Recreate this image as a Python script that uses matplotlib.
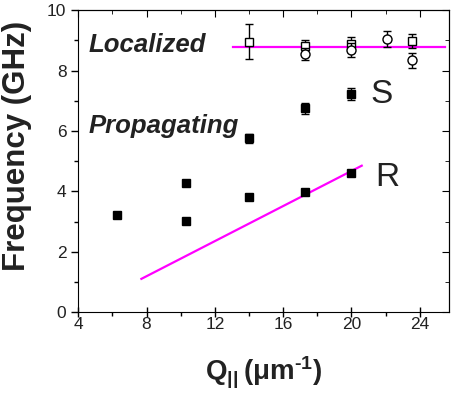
import matplotlib
matplotlib.use("Agg")
import matplotlib.pyplot as plt
from matplotlib.ticker import MultipleLocator

plt.rcParams['font.family'] = ['Liberation Sans', 'DejaVu Sans']
plt.rcParams['mathtext.fontset'] = 'custom'
plt.rcParams['mathtext.rm'] = 'Liberation Sans'
plt.rcParams['mathtext.bf'] = 'Liberation Sans:bold'

# Propagating (filled squares)
prop_q = [6.3, 10.3, 10.3, 14.0, 14.0, 17.25, 20.0, 17.25, 20.0]
prop_f = [3.22, 4.28, 3.02, 3.82, 5.76, 6.75, 7.22, 3.98, 4.62]
prop_err = [0, 0, 0, 0, 0.15, 0.18, 0.2, 0, 0]

# Localized squares (open)
loc_sq_q = [14.0, 17.25, 20.0, 23.55]
loc_sq_f = [8.95, 8.82, 8.88, 8.98]
loc_sq_err = [0.58, 0.2, 0.25, 0.22]

# Localized circles (open)
loc_ci_q = [17.25, 20.0, 22.1, 23.55]
loc_ci_f = [8.55, 8.68, 9.05, 8.35]
loc_ci_err = [0.2, 0.22, 0.25, 0.25]

# Magenta lines
line_loc_q = [13.05, 25.5]
line_loc_f = [8.78, 8.78]
line_r_q = [7.7, 20.6]
line_r_f = [1.1, 4.85]

fig = plt.figure(figsize=(4.52, 3.96), dpi=100)
ax = fig.add_axes([0.173, 0.212, 0.82, 0.762])

ax.plot(line_loc_q, line_loc_f, color='#ff00ff', lw=1.6, zorder=1)
ax.plot(line_r_q, line_r_f, color='#ff00ff', lw=1.6, zorder=1)

ax.errorbar(prop_q, prop_f, yerr=prop_err, fmt='s', color='black', ms=6,
            mfc='black', mec='black', elinewidth=1, capsize=3, capthick=1, zorder=3)
ax.errorbar(loc_sq_q, loc_sq_f, yerr=loc_sq_err, fmt='s', color='black', ms=6,
            mfc='white', mec='black', mew=1, elinewidth=1, capsize=3, capthick=1, zorder=3)
ax.errorbar(loc_ci_q, loc_ci_f, yerr=loc_ci_err, fmt='o', color='black', ms=6.5,
            mfc='white', mec='black', mew=1, elinewidth=1, capsize=3, capthick=1, zorder=4)

ax.text(4.62, 8.62, 'Localized', fontsize=18.5, fontweight='bold', style='italic',
        color='#222222', va='baseline', ha='left')
ax.text(4.62, 5.94, 'Propagating', fontsize=18.5, fontweight='bold', style='italic',
        color='#222222', va='baseline', ha='left')
ax.text(21.1, 6.94, 'S', fontsize=24, va='baseline', ha='left', color='#222222')
ax.text(21.4, 4.19, 'R', fontsize=24, va='baseline', ha='left', color='#222222')

ax.set_xlim(4, 25.7)
ax.set_ylim(0, 10)
ax.xaxis.set_major_locator(MultipleLocator(4))
ax.xaxis.set_minor_locator(MultipleLocator(2))
ax.yaxis.set_major_locator(MultipleLocator(2))
ax.yaxis.set_minor_locator(MultipleLocator(1))

ax.tick_params(which='both', direction='out', top=False, right=False,
               labelsize=12.5, colors='black', labelcolor='#222222')
ax.tick_params(which='major', length=5, width=1)
ax.tick_params(which='minor', length=3, width=1)
ax.tick_params(axis='x', which='major', direction='inout', length=7, pad=0)

# inward ticks on top and right
sec_x = ax.secondary_xaxis('top')
sec_x.xaxis.set_major_locator(MultipleLocator(4))
sec_x.xaxis.set_minor_locator(MultipleLocator(2))
sec_x.tick_params(which='both', direction='in', labeltop=False)
sec_x.tick_params(which='major', length=5)
sec_x.tick_params(which='minor', length=3)
sec_y = ax.secondary_yaxis('right')
sec_y.yaxis.set_major_locator(MultipleLocator(2))
sec_y.yaxis.set_minor_locator(MultipleLocator(1))
sec_y.tick_params(which='both', direction='in', labelright=False)
sec_y.tick_params(which='major', length=5)
sec_y.tick_params(which='minor', length=3)

ax.set_ylabel('Frequency (GHz)', fontsize=22.5, fontweight='bold', color='#222222')
ax.yaxis.set_label_coords(-0.125, 0.55)
ax.set_xlabel(r'$\mathbf{Q}_{\mathbf{||}}\,\mathbf{(\mu m^{‐1})}$', fontsize=20,
              color='#222222', labelpad=16)

fig.savefig('out.png', dpi=100)
